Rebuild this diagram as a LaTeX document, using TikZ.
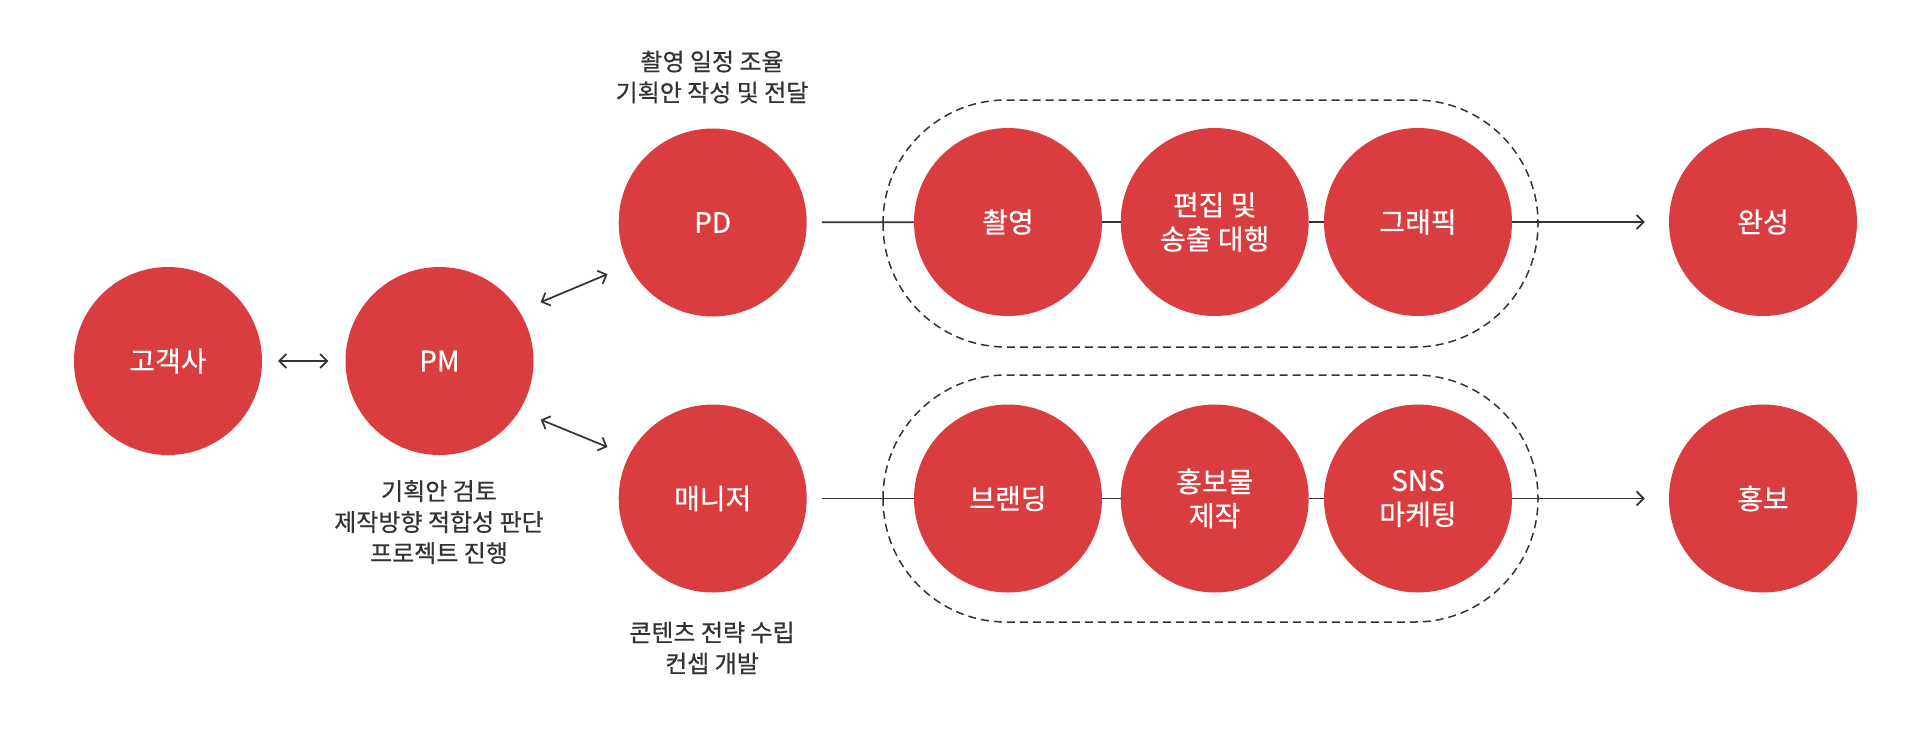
\documentclass[tikz,border=0pt]{standalone}
\usepackage{fontspec}
\setmainfont{Noto Sans CJK KR}
\newfontfamily\medfont[FakeBold=0.6]{Noto Sans CJK KR}
\usetikzlibrary{arrows.meta}
\definecolor{cred}{HTML}{D93D3F}
\definecolor{cdark}{HTML}{333333}
\begin{document}
\begin{tikzpicture}[x=1pt,y=-1pt,
  circ/.style={circle,fill=cred,draw=none,minimum size=188pt,inner sep=0pt,
    text=white,font=\medfont\fontsize{28}{34}\selectfont,align=center},
  lbl/.style={text=cdark,font=\medfont\fontsize{24}{31}\selectfont,align=center},
  conn/.style={draw=cdark,line width=1.7pt},
  tip/.style={conn,arrows={Straight Barb[length=7pt,width=14pt,line width=1.7pt]-Straight Barb[length=7pt,width=14pt,line width=1.7pt]}},
  rtip/.style={conn,-{Straight Barb[length=7pt,width=14pt,line width=1.7pt]}},
  group/.style={draw=cdark,line width=1.5pt,dash pattern=on 8pt off 5pt,rounded corners=123pt}
]
\useasboundingbox (0,0) rectangle (1920,742);
\fill[white] (0,0) rectangle (1920,742);

% groups
\draw[group] (883,100) rectangle (1538,347);
\draw[group] (883,375) rectangle (1538,622);

% nodes
\node[circ] (client) at (168,361) {고객사};
\node[circ] (pm) at (439.5,361) {PM};
\node[circ] (pd) at (712.7,222.5) {PD};
\node[circ] (mgr) at (712.7,498.5) {매니저};
\node[circ] (shoot) at (1008,222) {촬영};
\node[circ] (edit) at (1214.7,222) {편집 및\\송출 대행};
\node[circ] (graphic) at (1418,222) {그래픽};
\node[circ] (done) at (1763,222) {완성};
\node[circ] (brand) at (1008,498.5) {브랜딩};
\node[circ] (promo) at (1214.7,498.5) {홍보물\\제작};
\node[circ] (sns) at (1418,498.5) {SNS\\마케팅};
\node[circ] (pr) at (1763,498.5) {홍보};

% labels
\node[lbl] (lpd) at (712,77) {촬영 일정 조율\\기획안 작성 및 전달};
\node[lbl] (lpm) at (439,522) {기획안 검토\\제작방향 적합성 판단\\프로젝트 진행};
\node[lbl] (lmgr) at (712,648) {콘텐츠 전략 수립\\컨셉 개발};

% connectors
\draw[tip,shorten <=16pt,shorten >=17pt] (client) -- (pm);
\draw[tip,shorten <=23pt,shorten >=23pt] (pm.32) -- (pd.207);
\draw[tip,shorten <=23pt,shorten >=23pt] (pm.-32) -- (mgr.153);

\draw[conn,shorten <=15pt] (pd) -- (shoot);
\draw[conn] (shoot) -- (edit);
\draw[conn] (edit) -- (graphic);
\draw[rtip,shorten >=24pt] (graphic) -- (done);

\draw[conn,shorten <=15pt] (mgr) -- (brand);
\draw[conn] (brand) -- (promo);
\draw[conn] (promo) -- (sns);
\draw[rtip,shorten >=24pt] (sns) -- (pr);
\end{tikzpicture}
\end{document}
